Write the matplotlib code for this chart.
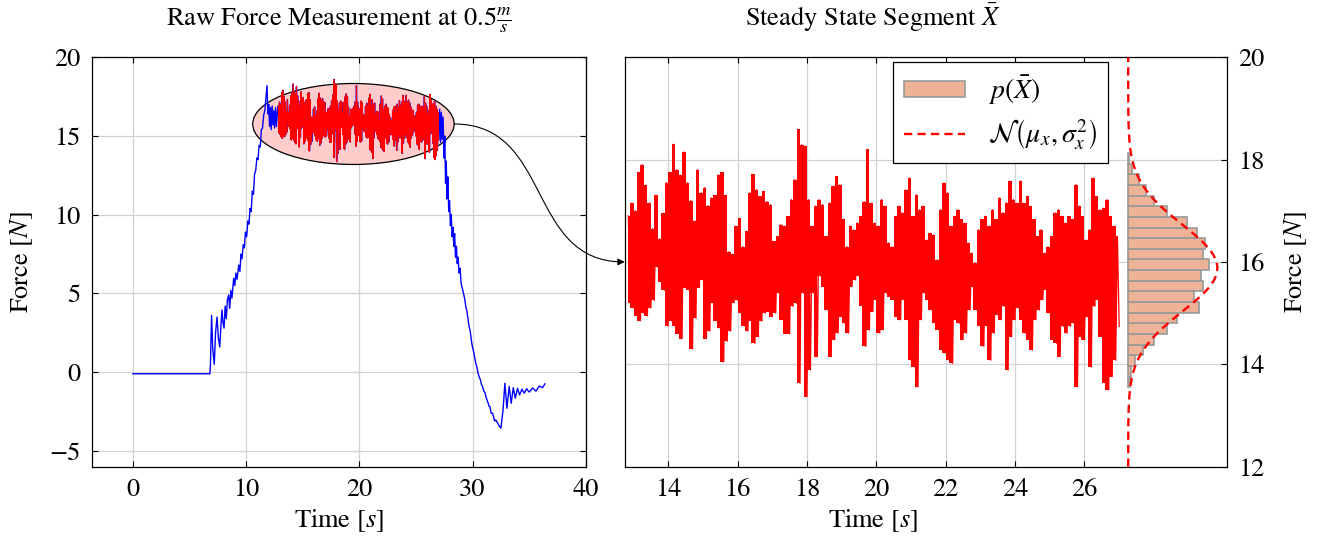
import numpy as np
import matplotlib.pyplot as plt
from matplotlib.patches import Ellipse, FancyArrowPatch
from matplotlib.path import Path

plt.rcParams['font.family'] = 'STIXGeneral'
plt.rcParams['mathtext.fontset'] = 'stix'

# ---------------- data ----------------
# raw force, rise part (time [s], force [N])
rise_t = [0.0, 6.8, 6.85, 6.95, 7.05, 7.19, 7.3, 7.43, 7.55, 7.67, 7.78, 7.87, 7.95, 8.05,
          8.15, 8.25, 8.35, 8.46, 8.55, 8.65, 8.75, 8.9, 9.0, 9.1, 9.2, 9.35, 9.45, 9.55,
          9.64, 9.75, 9.85, 9.94, 10.05, 10.15, 10.25, 10.35, 10.45, 10.55, 10.65, 10.75,
          10.85, 10.95, 11.05, 11.15, 11.25, 11.35, 11.45, 11.55, 11.65, 11.75, 11.85,
          11.92, 12.0, 12.07, 12.15, 12.22, 12.3, 12.38, 12.45, 12.52, 12.6, 12.68, 12.75]
rise_f = [-0.1, -0.1, 0.5, 3.6, 1.5, 0.5, 2.5, 3.5, 2.2, 1.6, 3.0, 3.95, 3.2, 2.8,
          4.2, 3.4, 4.6, 4.9, 4.05, 5.2, 4.7, 5.96, 5.5, 6.3, 5.9, 6.8, 6.4, 7.5,
          7.2, 8.1, 7.9, 8.9, 8.6, 9.6, 9.4, 10.4, 10.2, 11.5, 11.3, 12.6,
          12.8, 13.6, 13.5, 14.4, 14.3, 15.4, 15.5, 16.3, 16.6, 17.4, 18.2,
          16.4, 17.0, 15.6, 16.8, 15.4, 16.9, 15.7, 16.6, 15.5, 16.8, 15.6, 16.5]

# raw force, fall part
fall_t = [27.02, 27.1, 27.18, 27.25, 27.32, 27.4, 27.48, 27.55, 27.62, 27.68, 27.75, 27.82,
          27.9, 27.97, 28.05, 28.12, 28.2, 28.28, 28.35, 28.42, 28.5, 28.58, 28.65, 28.72,
          28.82, 28.9, 29.0, 29.11, 29.2, 29.3, 29.41, 29.5, 29.6, 29.7, 29.8, 29.9, 30.0,
          30.1, 30.2, 30.29, 30.4, 30.5, 30.59, 30.7, 30.8, 30.88, 31.0, 31.1, 31.18, 31.3,
          31.4, 31.47, 31.55, 31.65, 31.77, 31.85, 31.95, 32.06, 32.2, 32.35, 32.51, 32.7,
          32.86, 33.04, 33.24, 33.42, 33.6, 33.78, 33.98, 34.16, 34.37, 34.57, 34.78, 35.01,
          35.31, 35.6, 35.9, 36.19, 36.4]
fall_f = [15.2, 16.7, 14.6, 16.5, 14.8, 16.2, 13.6, 15.0, 12.0, 13.4, 11.0, 12.4,
          10.2, 10.9, 9.3, 10.0, 8.6, 9.2, 8.0, 8.8, 7.3, 8.0, 6.9, 7.3,
          6.3, 6.6, 5.6, 5.3, 5.0, 4.7, 4.16, 3.9, 3.4, 2.9, 2.6, 2.0, 1.6,
          1.3, 0.9, 0.57, 0.3, -0.1, -0.28, -0.5, -0.8, -0.9, -1.2, -1.3, -1.55, -1.8,
          -2.0, -2.18, -2.2, -2.6, -2.6, -2.8, -3.1, -3.03, -3.2, -3.4, -3.55, -2.4,
          -0.7, -2.29, -0.91, -1.97, -0.98, -1.65, -1.02, -1.44, -1.08, -1.33, -1.05, -1.26,
          -1.0, -1.2, -0.88, -0.98, -0.74]

# steady state segment: upper / lower excursion every 0.1 s from 12.85 s
ss_start, ss_step = 12.85, 0.1
ss_hi = [16.9, 17.15, 17.0, 17.75, 17.9, 17.5, 17.15, 16.65, 17.3, 16.45,
         16.95, 17.55, 17.75, 18.3, 17.8, 17.7, 18.15, 17.55, 17.2, 16.8,
         17.8, 17.35, 17.45, 17.1, 17.25, 17.3, 17.7, 17.75, 17.3, 16.2,
         16.15, 16.7, 16.85, 16.3, 16.6, 17.35,
         17.71, 17.41, 17.28, 17.38, 17.18, 17.12, 16.4, 16.5, 16.73, 16.7,
         16.89, 17.22, 17.61, 18.59, 18.29, 18.26, 17.22, 16.7, 17.09, 17.22,
         17.12, 16.5, 17.15, 17.48, 17.67, 17.51, 16.83, 16.3, 16.7, 16.63,
         16.76, 16.89, 17.18, 18.2,
         17.15, 16.76, 16.7, 17.22, 17.09, 16.37, 16.3, 16.89, 17.09, 16.96,
         17.41, 17.64, 16.89, 17.31, 17.02, 17.09, 16.43, 16.56, 16.53, 16.04,
         17.02, 17.54, 17.35, 16.7, 16.89, 17.02, 16.83, 16.76, 16.37, 16.17,
         15.98, 16.63, 16.83, 16.89, 16.7,
         17.02, 16.83, 17.25, 16.96, 17.15, 17.58, 17.22, 17.15, 17.58, 17.15,
         17.28, 17.09, 16.83, 16.5, 16.63, 16.17, 16.3, 16.5, 16.96, 17.02,
         16.89, 16.76, 16.89, 16.83, 17.51, 17.09, 16.89, 16.43, 16.63, 17.64,
         17.28, 17.02, 17.05, 17.22, 16.89, 16.7, 16.5]
ss_lo = [15.2, 15.1, 14.95, 14.85, 15.0, 14.95, 15.1, 15.25, 15.9, 15.6,
         15.45, 14.75, 14.85, 14.75, 14.6, 14.5, 15.5, 15.45, 14.3, 14.9,
         15.5, 15.65, 14.5, 14.65, 15.2, 14.85, 14.7, 14.05, 14.45, 14.65,
         15.2, 15.25, 15.0, 14.75, 14.65, 14.85,
         14.41, 14.54, 14.84, 15.0, 15.03, 14.93, 15.0, 15.39, 14.87, 14.6,
         14.6, 15.13, 15.19, 13.63, 15.39, 13.37, 13.89, 15.39, 14.15, 15.72,
         15.52, 15.06, 14.15, 14.48, 14.61, 14.93, 14.8, 14.61, 15.52, 15.65,
         15.72, 15.13, 14.35, 14.67,
         15.03, 15.26, 14.61, 14.67, 15.39, 15.32, 15.26, 14.93, 14.87, 15.26,
         14.87, 14.08, 13.95, 13.56, 14.87, 15.39, 15.26, 15.06, 14.8, 14.67,
         14.28, 14.22, 14.08, 14.02, 14.87, 14.8, 14.48, 14.61, 15.06, 15.52,
         15.06, 14.74, 14.35, 14.74, 14.08,
         14.61, 14.97, 14.87, 15.13, 13.89, 14.54, 14.87, 15.1, 14.87, 14.61,
         14.48, 14.28, 14.87, 15.06, 15.26, 15.46, 15.0, 14.48, 14.41, 14.15,
         14.74, 14.61, 14.74, 14.8, 13.56, 14.54, 14.48, 14.93, 13.95, 15.13,
         15.26, 14.54, 13.63, 13.5, 13.76, 14.08, 14.74]

# histogram of the steady segment (bottom bin first)
hist_lo, hist_bin = 13.55, 0.2082
hist_len = [0.05, 0.09, 0.21, 0.44, 0.75, 1.12, 1.41, 2.05, 1.90, 2.17, 2.11,
            2.33, 2.17, 2.22, 1.99, 1.69, 1.12, 0.75, 0.52, 0.31, 0.10, 0.03]
hist_base = 27.26
mu_x, sigma_x, pdf_peak = 15.88, 0.85, 2.57

# zoom ellipse in the raw plot
ell_c, ell_w, ell_h = (19.48, 15.76), 17.79, 5.14
arrow_target = 16.0

# ---------------- build series ----------------
t_ss = ss_start + ss_step * np.arange(len(ss_hi))
seg_t = np.column_stack([t_ss, t_ss + ss_step / 2]).ravel()
seg_f = np.column_stack([ss_hi, ss_lo]).ravel()
raw_t = np.concatenate([rise_t, seg_t, fall_t])
raw_f = np.concatenate([rise_f, seg_f, fall_f])

W, H = 1327, 543
fig = plt.figure(figsize=(W / 100, H / 100), dpi=100)
ax1 = fig.add_axes([91.7 / W, (H - 466.7) / H, 494 / W, 409.5 / H])
ax2 = fig.add_axes([624.7 / W, (H - 466.7) / H, 602 / W, 409.5 / H])

fs = 19
grid_kw = dict(color='#d2d2d2', lw=0.9)

# ---- left: raw force ----
ax1.add_patch(Ellipse(ell_c, ell_w, ell_h, facecolor='#ffcccc', edgecolor='black', lw=0.9, zorder=2))
ax1.plot(raw_t, raw_f, color='blue', lw=1.0, zorder=3)
ax1.fill_between(t_ss, ss_lo, ss_hi, step='mid', color='red', lw=0, zorder=4)
ax1.plot(seg_t, seg_f, color='red', lw=0.8, zorder=4)
ax1.set_xlim(-3.64, 40.0)
ax1.set_ylim(-6, 20)
ax1.set_xticks([0, 10, 20, 30, 40])
ax1.set_yticks([-5, 0, 5, 10, 15, 20])
ax1.grid(**grid_kw)
ax1.set_axisbelow(True)
ax1.tick_params(direction='in', top=True, right=True, length=4, labelsize=fs, pad=8)
ax1.set_xlabel('Time [$s$]', fontsize=fs)
ax1.set_ylabel('Force [$N$]', fontsize=fs)
ax1.xaxis.set_label_coords(0.5, -0.10)
ax1.yaxis.set_label_coords(-0.115, 0.5)
ax1.text(0.5, 1.075, r'Raw Force Measurement at $0.5\frac{m}{s}$', transform=ax1.transAxes,
         ha='center', va='baseline', fontsize=fs)

# ---- right: steady state segment ----
ax2.fill_between(t_ss, ss_lo, ss_hi, step='mid', color='red', lw=0, zorder=3)
ax2.plot(seg_t, seg_f, color='red', lw=0.9, zorder=3)
bars = ax2.barh(hist_lo + hist_bin * np.arange(len(hist_len)), hist_len, height=hist_bin,
                left=hist_base, align='edge', facecolor='#eeb297', edgecolor='#999999',
                lw=1.2, zorder=3, label=r'$p\left(\bar{X}\right)$')
yy = np.linspace(12, 20, 400)
pdf_line, = ax2.plot(hist_base + pdf_peak * np.exp(-0.5 * ((yy - mu_x) / sigma_x) ** 2), yy,
                     color='red', lw=1.7, ls=(0, (3.5, 2.2)), zorder=4,
                     label=r'$\mathcal{N}\left(\mu_x, \sigma_x^2\right)$')
ax2.set_xlim(12.745, 30.10)
ax2.set_ylim(12, 20)
ax2.set_xticks(range(14, 27, 2))
ax2.set_yticks([12, 14, 16, 18, 20])
ax2.grid(**grid_kw)
ax2.set_axisbelow(True)
ax2.yaxis.tick_right()
ax2.yaxis.set_label_position('right')
ax2.tick_params(direction='in', top=True, length=4, labelsize=fs, pad=8)
ax2.set_xlabel('Time [$s$]', fontsize=fs)
ax2.set_ylabel('Force [$N$]', fontsize=fs)
ax2.xaxis.set_label_coords(0.412, -0.10)
ax2.yaxis.set_label_coords(1.092, 0.5)
ax2.text(0.412, 1.075, r'Steady State Segment $\bar{X}$', transform=ax2.transAxes,
         ha='center', va='baseline', fontsize=fs)
leg = ax2.legend([bars, pdf_line], [bars.get_label(), pdf_line.get_label()],
                 loc='upper right', bbox_to_anchor=(0.803, 0.988), borderaxespad=0,
                 fontsize=fs + 1, fancybox=False, edgecolor='black', framealpha=1,
                 handlelength=2.2, handleheight=0.5, borderpad=0.4, labelspacing=0.4,
                 handletextpad=0.8)
leg.get_frame().set_linewidth(0.9)

for ax in (ax1, ax2):
    for s in ax.spines.values():
        s.set_linewidth(0.9)

# ---- connecting arrow from the ellipse to the zoomed plot ----
p0 = ax1.transData.transform((ell_c[0] + ell_w / 2, ell_c[1]))
p3 = ax2.transData.transform((ax2.get_xlim()[0], arrow_target))
k = 0.45 * np.hypot(*(p3 - p0))
verts = fig.transFigure.inverted().transform([p0, p0 + (k, 0), p3 - (k, 0), p3])
path = Path(verts, [Path.MOVETO, Path.CURVE4, Path.CURVE4, Path.CURVE4])
fig.add_artist(FancyArrowPatch(path=path, arrowstyle='-|>', mutation_scale=10, lw=0.8,
                               color='black', transform=fig.transFigure))

fig.savefig('out.png', dpi=100)
